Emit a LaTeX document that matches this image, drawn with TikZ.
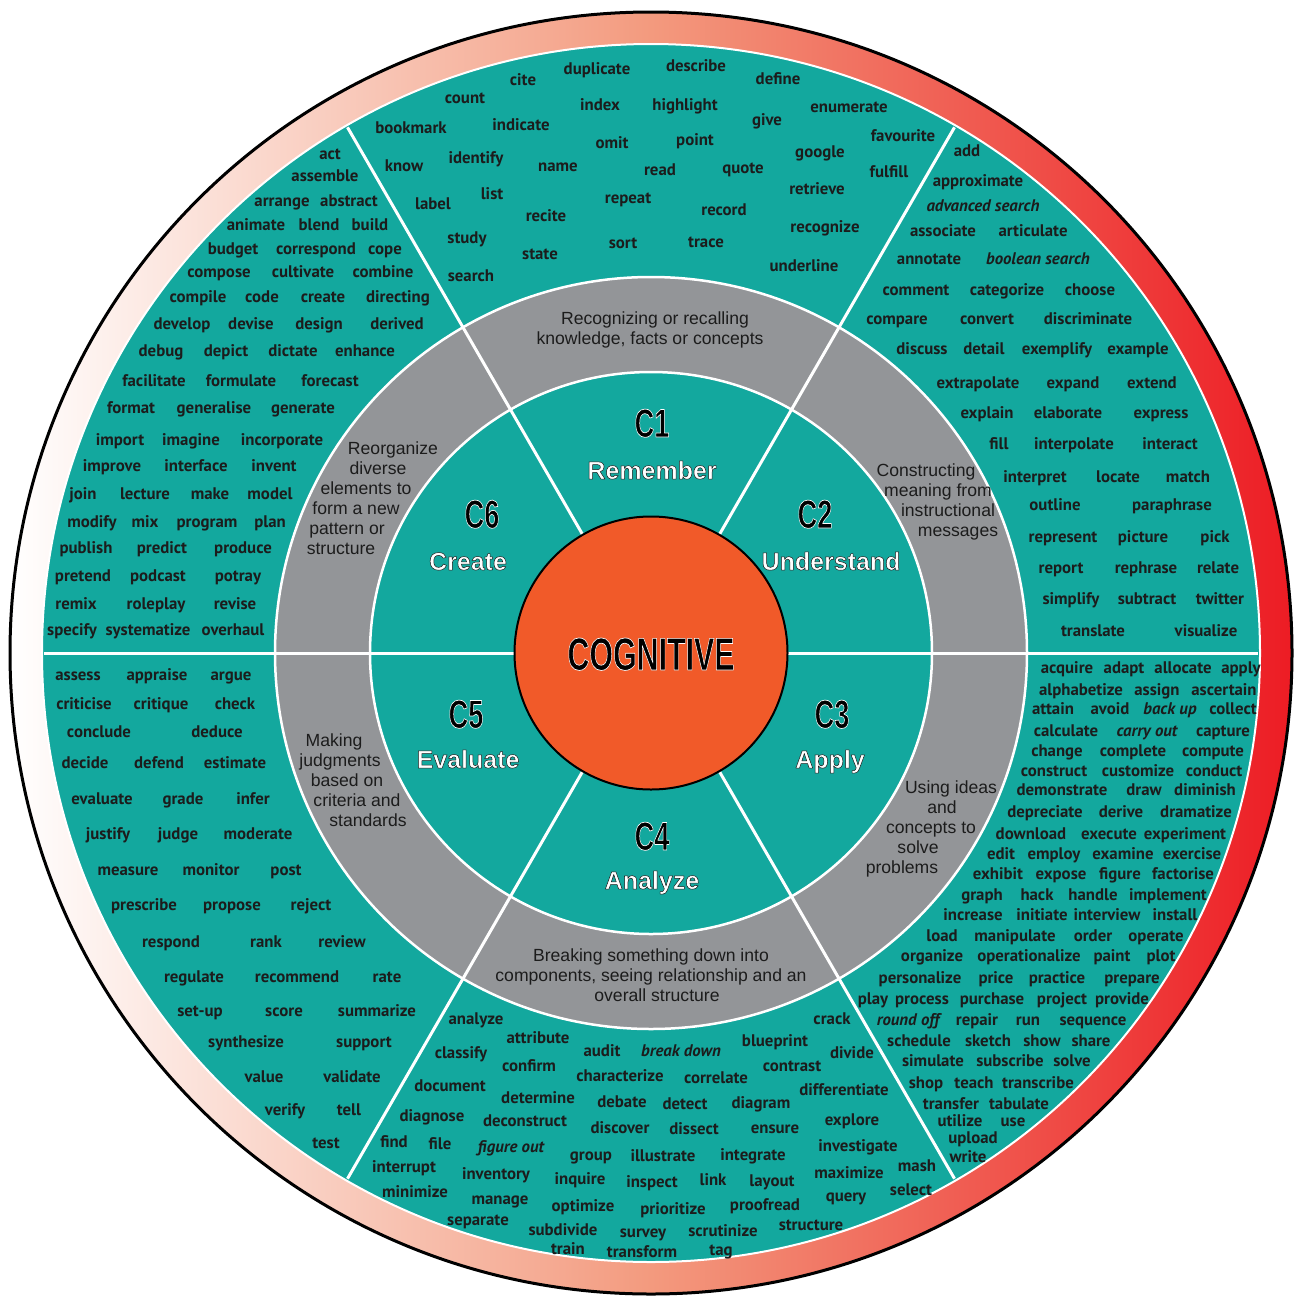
\documentclass[tikz,border=0pt]{standalone}
\usepackage{fontspec}
\usepackage{graphicx}
\usetikzlibrary{positioning,calc}
\setmainfont{Liberation Sans}
\newfontfamily\wordfont{PT Sans}
\definecolor{wheelteal}{HTML}{13A89E}
\definecolor{ringgrey}{HTML}{939598}
\definecolor{coreorange}{HTML}{F15A29}
\definecolor{rimred}{HTML}{ED1C24}
\definecolor{rimsalmon}{HTML}{F39A7E}
\definecolor{inkdark}{HTML}{1C1C1C}

% outlined text: stroke colour (pdf rgb), fill colour, stroke width, text
\newcommand{\outlined}[4]{%
  \textcolor{#2}{\special{pdf:literal direct #1 RG #3 w 1 j 2 Tr}#4\special{pdf:literal direct 0 Tr}}}
\newcommand{\levelcode}[1]{\scalebox{0.68}[1]{\fontsize{40}{40}\selectfont\bfseries\outlined{1 1 1}{black}{0.7}{#1}}}
\newcommand{\levelname}[1]{\fontsize{25}{25}\selectfont\bfseries\outlined{0.1 0.1 0.1}{white}{0.5}{#1}}

\begin{document}
\begin{tikzpicture}[x=1pt, y=-1pt,
  verbword/.style={font=\wordfont\bfseries\fontsize{16.8}{16.8}\selectfont, text=inkdark,
    inner sep=0pt, text height=11pt, text depth=4pt},
  verbital/.style={verbword, font=\wordfont\bfseries\itshape\fontsize{16.8}{16.8}\selectfont},
  hinttext/.style={font=\fontsize{17.6}{17.6}\selectfont, text=inkdark,
    inner sep=0pt, text height=12pt, text depth=3.5pt},
  levellbl/.style={inner sep=0pt, anchor=base},
  spoke/.style={draw=white, line width=3pt}]

  \useasboundingbox (0,0) rectangle (1304,1299);
  \coordinate (hub) at (651,653);

  % Rim and wheel
  \shade[left color=white, right color=rimred, middle color=rimsalmon] (hub) circle[radius=641pt];
  \draw[black, line width=3pt] (hub) circle[radius=641pt];
  \fill[wheelteal] (hub) circle[radius=609pt];
  \draw[white, line width=2pt] (hub) circle[radius=609pt];

  % Grey ring
  \fill[ringgrey, even odd rule] (hub) circle[radius=376pt] (hub) circle[radius=281pt];
  \draw[white, line width=2.5pt] (hub) circle[radius=376pt] (hub) circle[radius=281pt];

  % Spokes
  \foreach \a in {0,60,...,300}
    \draw[spoke] ($(hub)+(\a:136)$) -- ($(hub)+(\a:607)$);

  % Core
  \node[circle, fill=coreorange, draw=black, line width=2pt, minimum size=273pt,
    inner sep=0pt] (core) at (hub) {};
  \node[levellbl] (cogtitle) at (651,670)
    {\scalebox{0.66}[1]{\fontsize{46}{46}\selectfont\bfseries\outlined{1 1 1}{black}{0.7}{COGNITIVE}}};

  % Levels
  \node[levellbl] (c1code) at (652,437) {\levelcode{C1}};
  \node[levellbl] (c1name) at (652,479) {\levelname{Remember}};
  \node[levellbl] (c2code) at (815,528) {\levelcode{C2}};
  \node[levellbl] (c2name) at (831,570) {\levelname{Understand}};
  \node[levellbl] (c3code) at (832,728) {\levelcode{C3}};
  \node[levellbl] (c3name) at (830,768) {\levelname{Apply}};
  \node[levellbl] (c4code) at (652,850) {\levelcode{C4}};
  \node[levellbl] (c4name) at (652,889) {\levelname{Analyze}};
  \node[levellbl] (c5code) at (466,728) {\levelcode{C5}};
  \node[levellbl] (c5name) at (468,768) {\levelname{Evaluate}};
  \node[levellbl] (c6code) at (482,528) {\levelcode{C6}};
  \node[levellbl] (c6name) at (468,570) {\levelname{Create}};

  % Descriptions in the grey ring
  \node[hinttext] (remhint1) at (655,320) {Recognizing or recalling};
  \node[hinttext] (remhint2) at (650,340) {knowledge, facts or concepts};
  \foreach \t/\x/\y [count=\i] in {Constructing/926/472, meaning from/938/492,
      instructional/948/512, messages/958/532}
    \node[hinttext] (undhint\i) at (\x,\y) {\t};
  \foreach \t/\x/\y [count=\i] in {Using ideas/951/789, and/942/809,
      concepts to/931/829, solve/918/849, problems/902/869}
    \node[hinttext] (apphint\i) at (\x,\y) {\t};
  \node[hinttext] (anahint1) at (651,957) {Breaking something down into};
  \node[hinttext] (anahint2) at (651,977) {components, seeing relationship and an};
  \node[hinttext] (anahint3) at (657,997) {overall structure};
  \foreach \t/\x/\y [count=\i] in {Making/334/742, judgments/340/762,
      based on/347/782, criteria and/357/802, standards/368/822}
    \node[hinttext] (evahint\i) at (\x,\y) {\t};
  \foreach \t/\x/\y [count=\i] in {Reorganize/393/450, diverse/378/470,
      elements to/366/490, form a new/356/510, pattern or/347/530, structure/341/550}
    \node[hinttext] (crehint\i) at (\x,\y) {\t};

  % Verbs: Remember
  \foreach \w/\x/\y [count=\i] in {cite/523/82, duplicate/597/71, describe/696/68,
      define/778/81, count/465/100, index/600/107, highlight/685/107, enumerate/849/109,
      bookmark/411/130, indicate/521/127, give/767/122, favourite/903/138, omit/612/145,
      point/695/142, google/820/154, know/404/168, identify/476/160, name/558/168,
      read/660/172, quote/743/170, fulfill/889/174, label/433/206, list/492/196,
      repeat/628/200, retrieve/817/191, recite/546/218, record/724/212,
      recognize/825/229, study/467/240, sort/623/245, trace/706/244, state/540/256,
      underline/804/268, search/471/278}
    \node[verbword] (rem\i) at (\x,\y) {\w};

  % Verbs: Understand
  \foreach \w/\x/\y [count=\i] in {add/967/153, approximate/978/183, associate/943/233,
      articulate/1033/233, annotate/929/261, comment/916/292, categorize/1007/292,
      choose/1090/292, compare/897/321, convert/987/321, discriminate/1088/321,
      discuss/922/351, detail/984/351, exemplify/1057/351, example/1138/351,
      extrapolate/978/385, expand/1073/385, extend/1152/385, explain/987/415,
      elaborate/1068/415, express/1161/415, fill/999/446, interpolate/1074/446,
      interact/1170/446, interpret/1035/479, locate/1118/479, match/1188/479,
      outline/1055/507, paraphrase/1172/507, represent/1063/539, picture/1143/539,
      pick/1215/539, report/1061/570, rephrase/1146/570, relate/1218/570,
      simplify/1071/601, subtract/1147/601, twitter/1220/601, translate/1093/633,
      visualize/1206/633}
    \node[verbword] (und\i) at (\x,\y) {\w};
  \node[verbital] (undit1) at (983,208) {advanced search};
  \node[verbital] (undit2) at (1038,261) {boolean search};

  % Verbs: Apply
  \foreach \w/\x/\y [count=\i] in {acquire/1067/670, adapt/1124/670, allocate/1183/670,
      apply/1241/670, alphabetize/1081/692, assign/1157/692, ascertain/1224/692,
      attain/1053/711, avoid/1110/711, collect/1233/711, calculate/1066/733,
      capture/1223/733, change/1057/753, complete/1133/753, compute/1213/753,
      construct/1054/773, customize/1138/773, conduct/1214/773, demonstrate/1062/792,
      draw/1144/792, diminish/1205/792, depreciate/1045/814, derive/1121/814,
      dramatize/1196/814, download/1031/836, execute/1109/836, experiment/1185/836,
      edit/1001/856, employ/1054/856, examine/1123/856, exercise/1192/856,
      exhibit/998/876, expose/1061/876, figure/1120/876, factorise/1183/876,
      graph/982/897, hack/1037/897, handle/1093/897, implement/1168/897,
      increase/973/917, initiate/1042/917, interview/1107/917, install/1175/917,
      load/942/938, manipulate/1015/938, order/1093/938, operate/1156/938,
      organize/932/958, operationalize/1029/958, paint/1112/958, plot/1161/958,
      personalize/920/980, price/996/980, practice/1057/980, prepare/1132/980,
      play/873/1001, process/922/1001, purchase/992/1001, project/1062/1001,
      provide/1122/1001, repair/977/1022, run/1028/1022, sequence/1093/1022,
      schedule/919/1043, sketch/988/1043, show/1042/1043, share/1091/1043,
      simulate/933/1063, subscribe/1010/1063, solve/1072/1063, shop/926/1085,
      teach/974/1085, transcribe/1038/1085, transfer/951/1106, tabulate/1019/1106,
      utilize/960/1123, use/1013/1123, upload/973/1140, write/968/1159}
    \node[verbword] (app\i) at (\x,\y) {\w};
  \node[verbital] (appit1) at (1170,711) {back up};
  \node[verbital] (appit2) at (1147,733) {carry out};
  \node[verbital] (appit3) at (908,1022) {round off};

  % Verbs: Analyze
  \foreach \w/\x/\y [count=\i] in {analyze/476/1021, attribute/538/1040, classify/461/1055,
      audit/602/1053, confirm/529/1068, characterize/620/1078, correlate/716/1080,
      document/450/1088, determine/538/1100, debate/622/1104, detect/685/1106,
      diagnose/432/1118, deconstruct/525/1123, discover/620/1130, dissect/694/1131,
      find/394/1144, file/440/1146, group/591/1157, illustrate/663/1158,
      interrupt/404/1169, inventory/496/1176, inquire/580/1181, inspect/652/1184,
      minimize/415/1194, manage/500/1201, optimize/583/1208, prioritize/673/1211,
      separate/478/1222, subdivide/563/1232, survey/643/1234, train/568/1251,
      transform/642/1254, crack/832/1021, blueprint/775/1043, divide/852/1055,
      contrast/792/1068, differentiate/844/1092, diagram/761/1105, explore/852/1122,
      ensure/775/1130, integrate/753/1157, investigate/858/1148, link/713/1182,
      layout/772/1183, maximize/849/1175, mash/917/1168, query/846/1198,
      select/911/1192, proofread/765/1207, structure/811/1227, scrutinize/723/1233,
      tag/721/1252}
    \node[verbword] (ana\i) at (\x,\y) {\w};
  \node[verbital] (anait1) at (681,1053) {break down};
  \node[verbital] (anait2) at (511,1149) {figure out};

  % Verbs: Evaluate
  \foreach \w/\x/\y [count=\i] in {assess/78/677, appraise/157/677, argue/231/677,
      criticise/84/706, critique/161/706, check/235/706, conclude/99/734, deduce/217/734,
      decide/85/765, defend/159/765, estimate/235/765, evaluate/102/801, grade/183/801,
      infer/253/801, justify/108/836, judge/178/836, moderate/258/836, measure/128/872,
      monitor/211/872, post/286/872, prescribe/144/907, propose/232/907, reject/311/907,
      respond/171/944, rank/266/944, review/342/944, regulate/194/979,
      recommend/297/979, rate/387/979, set-up/200/1013, score/284/1013,
      summarize/377/1013, synthesize/246/1044, support/364/1044, value/264/1079,
      validate/352/1079, verify/285/1112, tell/349/1112, test/326/1145}
    \node[verbword] (eva\i) at (\x,\y) {\w};

  % Verbs: Create
  \foreach \w/\x/\y [count=\i] in {act/330/156, assemble/325/178, arrange/282/203,
      abstract/349/203, animate/256/227, blend/319/227, build/370/227, budget/233/251,
      correspond/316/251, cope/385/251, compose/219/274, cultivate/303/274,
      combine/383/274, compile/198/299, code/262/299, create/323/299, directing/398/299,
      develop/182/326, devise/251/326, design/319/326, derived/397/326, debug/161/353,
      depict/226/353, dictate/293/353, enhance/365/353, facilitate/154/383,
      formulate/241/383, forecast/330/383, format/131/410, generalise/214/410,
      generate/303/410, import/120/442, imagine/191/442, incorporate/282/442,
      improve/112/468, interface/196/468, invent/274/468, join/83/496, lecture/145/496,
      make/210/496, model/270/496, modify/92/524, mix/145/524, program/207/524,
      plan/270/524, publish/86/550, predict/162/550, produce/243/550, pretend/83/578,
      podcast/158/578, potray/238/578, remix/76/606, roleplay/156/606, revise/235/606,
      specify/72/632, systematize/148/632, overhaul/233/632}
    \node[verbword] (cre\i) at (\x,\y) {\w};
\end{tikzpicture}
\end{document}
